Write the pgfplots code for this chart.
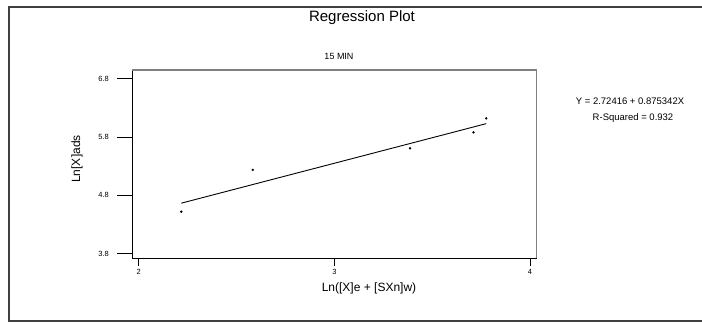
\documentclass[border=0pt]{standalone}
\usepackage{pgfplots}
\pgfplotsset{compat=1.18}
\usepackage{fontspec}
\setmainfont{Liberation Sans}
\begin{document}
\begin{tikzpicture}[x=1pt,y=1pt]
\useasboundingbox (0,0) rectangle (702,324);
% outer frame
\draw[line width=1.3pt, black!75] (702,317) -- (9,317) -- (9,3) -- (702,3);
\begin{axis}[
  at={(132pt,65.7pt)}, anchor=south west,
  width=404.7pt, height=188.3pt, scale only axis,
  xmin=1.966, xmax=4.034, ymin=3.72, ymax=6.95,
  axis x line*=bottom, axis y line*=left,
  axis line style={black, line width=0.9pt},
  xtick={2,3,4}, ytick={3.8,4.8,5.8,6.8},
  yticklabels={3.8,4.8,5.8,6.8},
  tick align=outside, major tick length=8pt,
  xtick style={black, line width=0.9pt},
  ytick style={draw=none},
  /pgf/number format/assume math mode=true,
  ticklabel style={font=\fontsize{7.5}{8}\selectfont},
  xticklabel style={inner sep=0pt, yshift=-2.5pt},
  yticklabel style={inner sep=0pt, anchor=east, xshift=-15pt},
  clip=false,
]
\addplot[only marks, mark=*, mark size=1pt, black] coordinates {
  (2.218,4.52) (2.583,5.236) (3.387,5.606) (3.711,5.881) (3.776,6.121)};
\addplot[black, line width=0.9pt] coordinates {(2.218,4.6657) (3.776,6.0295)};
\draw[gray, line width=1.2pt] (rel axis cs:0,1) -- (rel axis cs:1,1) -- (rel axis cs:1,0);
\pgfplotsinvokeforeach{3.8,4.8,5.8,6.8}{
  \draw[black, line width=0.9pt] (axis cs:1.966,#1) -- ([xshift=-15pt]axis cs:1.966,#1);
}
\end{axis}
\node[anchor=base, font=\fontsize{15}{17}\selectfont] at (362,302) {Regression Plot};
\node[anchor=base, font=\fontsize{9}{10}\selectfont] at (339,264) {15 MIN};
\node[anchor=base, font=\fontsize{9.5}{11}\selectfont] at (630,219) {Y = 2.72416 + 0.875342X};
\node[anchor=base, font=\fontsize{9.5}{11}\selectfont] at (633,203) {R-Squared = 0.932};
\node[font=\fontsize{12}{14}\selectfont] at (369,36) {Ln([X]e + [SXn]w)};
\node[rotate=90, font=\fontsize{12}{14}\selectfont] at (77,165) {Ln[X]ads};
\end{tikzpicture}
\end{document}
